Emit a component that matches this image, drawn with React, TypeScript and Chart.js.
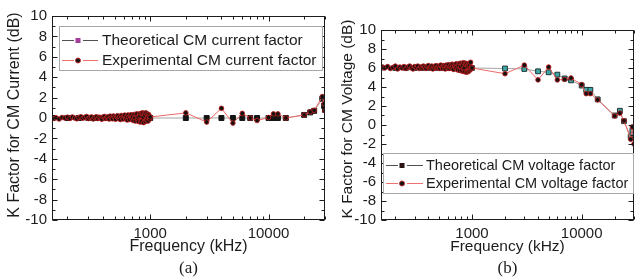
import React, { useEffect, useRef, useState } from "react";
import { Chart, registerables } from "chart.js";
Chart.register(...registerables);

const SANS = "'Liberation Sans', Arial, Helvetica, sans-serif";
const SERIF = "'Liberation Serif', 'Times New Roman', serif";
const INK = "#1c1c1c";

const X_LABELS = [1000, 10000];
const X_MINOR = [200, 300, 400, 500, 600, 700, 800, 900, 2000, 3000, 4000, 5000, 6000, 7000, 8000, 9000, 20000, 30000];
const Y_LABEL_VALUES = [-10, -8, -6, -4, -2, 0, 2, 4, 6, 8, 10];
const Y_MINOR = [-9, -7, -5, -3, -1, 1, 3, 5, 7, 9];

const denseFreq = [
  150, 160, 170, 180, 190,
  200, 210, 220, 230, 240, 250, 260, 270, 280, 290,
  300, 310, 320, 330, 340, 350, 360, 370, 380, 390,
  400, 410, 420, 430, 440, 450, 460, 470, 480, 490,
  500, 510, 520, 530, 540, 550, 560, 570, 580, 590,
  600, 610, 620, 630, 640, 650, 660, 670, 680, 690,
  700, 710, 720, 730, 740, 750, 760, 770, 780, 790,
  800, 810, 820, 830, 840, 850, 860, 870, 880, 890,
  900, 910, 920, 930, 940, 950, 960, 970, 980, 990,
  1000,
];
const theoDenseFreq = [150, 200, 250, 300, 350, 400, 450, 500, 550, 600, 650, 700, 750, 800, 850, 900, 950, 1000];

const curExpDense = [
  -0.05, 0.02, -0.1, 0.05, 0.0,
  0.08, -0.05, 0.1, 0.0, -0.08, 0.05, 0.12, -0.02, 0.06, 0.15,
  -0.05, 0.05, 0.1, -0.1, 0.03, 0.12, -0.05, 0.08, 0.0, -0.12,
  0.1, 0.15, -0.05, 0.05, 0.12, -0.1, 0.18, 0.02, -0.08, 0.2,
  0.05, -0.12, 0.15, 0.22, -0.05, 0.1, -0.15, 0.25, 0.05, -0.1,
  0.2, 0.28, -0.08, 0.12, -0.2, 0.3, 0.05, -0.15, 0.25, 0.32,
  -0.1, 0.15, -0.25, 0.35, 0.0, -0.3, 0.3, 0.4, -0.2, 0.1,
  -0.35, 0.4, 0.2, -0.4, 0.45, -0.3, 0.5, 0.1, -0.45, 0.45,
  0.3, -0.35, 0.5, -0.2, 0.4, 0.05, -0.3, 0.35, 0.2, -0.1,
  0.1,
];
const curSparseFreq = [2000, 3000, 4000, 5000, 6000, 7000, 8000, 10000, 11000, 12000, 14000, 20000, 22500, 24300, 28500, 29500, 30000];
const curExpSparse = [0.5, -0.4, 0.95, -0.5, 0.45, 0.0, -0.25, 0.05, 0.4, 0.4, 0.0, 0.3, 0.6, 0.75, 2.1, 1.4, 0.7];
const curTheoDense = [0, 0, 0, 0, 0, 0, 0, 0, 0, 0, 0, 0, 0, 0, 0, 0, 0, 0];
const curTheoSparse = [0, 0, 0, 0, 0, 0, 0, 0, 0, 0, 0, 0.3, 0.55, 0.7, 1.9, 1.2, 0.8];

const volExpDense = [
  6.1, 6.0, 6.15, 5.95, 6.05,
  6.2, 5.9, 6.1, 6.0, 6.15, 5.95, 6.1, 6.2, 6.0, 5.9,
  6.15, 6.05, 6.2, 5.95, 6.1, 6.0, 6.2, 6.1, 5.95, 6.15,
  6.25, 6.0, 6.1, 6.2, 5.9, 6.15, 6.05, 6.25, 6.0, 6.1,
  6.2, 5.95, 6.3, 6.1, 6.0, 6.25, 6.15, 5.9, 6.3, 6.05,
  6.2, 6.35, 5.95, 6.15, 6.3, 6.0, 6.4, 6.1, 5.85, 6.35,
  6.2, 6.0, 6.45, 6.1, 5.8, 6.4, 6.25, 5.75, 6.5, 6.15,
  5.7, 6.5, 6.3, 5.65, 6.55, 6.0, 5.6, 6.5, 6.35, 5.55,
  6.45, 6.2, 5.6, 6.4, 5.7, 6.3, 5.8, 6.6, 5.9, 6.1,
  6.0,
];
const volSparseFreq = [2000, 3000, 4000, 5000, 6000, 7000, 8000, 10000, 11000, 12000, 14000, 20000, 22300, 24300, 28000, 29000, 30000];
const volExpSparse = [5.4, 6.3, 4.75, 6.1, 4.75, 4.8, 4.95, 4.25, 3.3, 3.3, 2.65, 0.95, 1.25, 0.45, -1.5, -0.2, -2.0];
const volTheoDense = [6.05, 6.0, 6.0, 6.0, 6.0, 6.0, 6.0, 6.0, 6.0, 6.0, 6.0, 6.0, 6.0, 6.0, 6.0, 6.0, 6.0, 6.0];
const volTheoSparse = [5.95, 5.9, 5.65, 5.55, 5.3, 4.9, 4.7, 4.15, 3.7, 3.7, 2.7, 1.0, 1.5, 0.4, -1.2, -0.6, -1.0];

const pts = (f: number[], v: number[]) => f.map((x, i) => ({ x, y: v[i] }));

const decor = {
  id: "decor",
  afterDraw(chart: any, _a: any, o: any) {
    const { ctx, chartArea: ca } = chart;
    const xs = chart.scales.x;
    const ys = chart.scales.y;
    const L = Math.round(ca.left) + 0.5;
    const R = Math.round(ca.right) - 0.5;
    const T = Math.round(ca.top) + 0.5;
    const B = Math.round(ca.bottom) - 0.5;
    ctx.save();
    ctx.strokeStyle = INK;
    ctx.lineWidth = 1;
    ctx.strokeRect(L, T, R - L, B - T);
    ctx.beginPath();
    const xt = (v: number, len: number) => {
      const p = Math.round(xs.getPixelForValue(v)) + 0.5;
      ctx.moveTo(p, B); ctx.lineTo(p, B - len);
      ctx.moveTo(p, T); ctx.lineTo(p, T + len);
    };
    const yt = (v: number, len: number) => {
      const p = Math.round(ys.getPixelForValue(v)) + 0.5;
      ctx.moveTo(L, p); ctx.lineTo(L + len, p);
      ctx.moveTo(R, p); ctx.lineTo(R - len, p);
    };
    X_LABELS.forEach((v) => xt(v, 5));
    X_MINOR.forEach((v) => xt(v, 3));
    Y_LABEL_VALUES.forEach((v) => yt(v, 5));
    Y_MINOR.forEach((v) => yt(v, 3));
    ctx.stroke();

    // titles
    ctx.fillStyle = INK;
    ctx.textAlign = "center";
    ctx.textBaseline = "middle";
    ctx.font = `${o.titleSize}px ${SANS}`;
    ctx.fillText(o.xTitle, (ca.left + ca.right) / 2, o.xTitleY);
    ctx.save();
    ctx.translate(o.yTitleX, o.yTitleY);
    ctx.rotate(-Math.PI / 2);
    ctx.fillText(o.yTitle, 0, 0);
    ctx.restore();
    ctx.font = `${o.capSize}px ${SERIF}`;
    ctx.fillText(o.caption, (ca.left + ca.right) / 2, o.captionY);

    // legend
    const lg = o.legend;
    ctx.fillStyle = "#ffffff";
    ctx.fillRect(lg.x, lg.y, lg.w, lg.h);
    ctx.strokeStyle = "#a8a8a8";
    ctx.strokeRect(lg.x + 0.5, lg.y + 0.5, lg.w, lg.h);
    lg.items.forEach((it: any, i: number) => {
      const y = lg.rows[i];
      ctx.strokeStyle = it.line;
      ctx.lineWidth = 1;
      ctx.beginPath();
      ctx.moveTo(lg.x0, y + 0.5); ctx.lineTo(lg.mx - 4, y + 0.5);
      ctx.moveTo(lg.mx + 5, y + 0.5); ctx.lineTo(lg.x1, y + 0.5);
      ctx.stroke();
      ctx.fillStyle = it.fill;
      ctx.strokeStyle = it.stroke;
      if (it.marker === "rect") {
        ctx.fillRect(lg.mx - 2.5, y - 2, 5, 5);
      } else {
        ctx.beginPath();
        ctx.arc(lg.mx, y + 0.5, 2.5, 0, Math.PI * 2);
        ctx.fill();
        ctx.stroke();
      }
      ctx.fillStyle = INK;
      ctx.textAlign = "left";
      ctx.textBaseline = "middle";
      ctx.font = `${lg.size}px ${SANS}`;
      ctx.fillText(it.label, lg.tx, y + 1);
    });
    ctx.restore();
  },
};

function makeConfig(p: any) {
  const tickFont = { family: SANS, size: p.tickSize };
  return {
    type: "line",
    data: {
      datasets: [
        {
          label: "exp",
          data: p.exp,
          borderColor: "#f06868",
          borderWidth: 1,
          pointStyle: "circle",
          pointRadius: 2.3,
          pointBackgroundColor: "#111111",
          pointBorderColor: "#b81c1c",
          pointBorderWidth: 0.9,
          tension: 0,
          fill: false,
        },
        {
          label: "theo",
          data: p.theo,
          borderColor: "#a3a3a3",
          borderWidth: 1,
          pointStyle: "rect",
          pointRadius: p.theoRadius,
          pointBackgroundColor: p.theoFill,
          pointBorderColor: p.theoStroke,
          pointBorderWidth: 1,
          tension: 0,
          fill: false,
        },
      ],
    },
    options: {
      responsive: false,
      animation: false,
      devicePixelRatio: 1,
      events: [],
      layout: { padding: { top: p.padTop, right: p.padRight, left: 0, bottom: 0 } },
      plugins: { legend: { display: false }, tooltip: { enabled: false }, decor: p.decor },
      scales: {
        x: {
          type: "logarithmic",
          min: 148,
          max: 30000,
          grid: { display: false, drawTicks: false },
          border: { display: false },
          afterFit: (s: any) => {
            s.height = 59;
          },
          ticks: { display: false },
        },
        y: {
          min: -10,
          max: 10,
          grid: { display: false, drawTicks: false },
          border: { display: false },
          afterFit: (s: any) => {
            s.width = p.yWidth;
          },
          ticks: { stepSize: 2, autoSkip: false, padding: 5, font: tickFont, color: INK },
        },
      },
    },
    plugins: [decor],
  };
}

const configA = makeConfig({
  exp: [...pts(denseFreq, curExpDense), ...pts(curSparseFreq, curExpSparse)],
  theo: [...pts(theoDenseFreq, curTheoDense), ...pts(curSparseFreq, curTheoSparse)],
  theoRadius: 3.5,
  theoFill: "#141414",
  theoStroke: "#141414",
  padTop: 16,
  padRight: 4,
  yWidth: 52,
  tickSize: 15,
  decor: {
    xTitle: "Frequency (kHz)",
    yTitle: "K Factor for CM Current (dB)",
    caption: "(a)",
    titleSize: 16,
    capSize: 17,
    xTitleY: 247,
    yTitleX: 15,
    yTitleY: 115,
    captionY: 269,
    legend: {
      x: 59, y: 26, w: 263, h: 44,
      rows: [40, 60],
      x0: 62, x1: 98, mx: 78, tx: 102, size: 15.5,
      items: [
        { label: "Theoretical CM current factor", line: "#505050", marker: "rect", fill: "#a0409a", stroke: "#a0409a" },
        { label: "Experimental CM current factor", line: "#f07070", marker: "circle", fill: "#111111", stroke: "#c03030" },
      ],
    },
  },
});

const configB = makeConfig({
  exp: [...pts(denseFreq, volExpDense), ...pts(volSparseFreq, volExpSparse)],
  theo: [...pts(theoDenseFreq, volTheoDense), ...pts(volSparseFreq, volTheoSparse)],
  theoRadius: 3.4,
  theoFill: "#3fa6a6",
  theoStroke: "#1d3535",
  padTop: 30,
  padRight: 2,
  yWidth: 51,
  tickSize: 15,
  decor: {
    xTitle: "Frequency (kHz)",
    yTitle: "K Factor for CM Voltage (dB)",
    caption: "(b)",
    titleSize: 15.5,
    capSize: 17,
    xTitleY: 247,
    yTitleX: 18,
    yTitleY: 119,
    captionY: 269,
    legend: {
      x: 53, y: 153, w: 250, h: 40,
      rows: [165, 183],
      x0: 56, x1: 93, mx: 72, tx: 96, size: 14.5,
      items: [
        { label: "Theoretical CM voltage factor", line: "#505050", marker: "rect", fill: "#2a1414", stroke: "#2a1414" },
        { label: "Experimental CM voltage factor", line: "#f07070", marker: "circle", fill: "#111111", stroke: "#c03030" },
      ],
    },
  },
});

function ChartCanvas({ config, left, width }: { config: any; left: number; width: number }) {
  const ref = useRef<HTMLCanvasElement>(null);
  const [labels, setLabels] = useState<{ v: number; x: number }[]>([]);
  useEffect(() => {
    const c = new Chart(ref.current as HTMLCanvasElement, config);
    const xs: any = c.scales.x;
    setLabels(X_LABELS.map((v) => ({ v, x: xs.getPixelForValue(v) })));
    return () => c.destroy();
  }, [config]);
  return (
    <>
      <canvas
        ref={ref}
        width={width}
        height={279}
        style={{ position: "absolute", left, top: 0, width, height: 279 }}
      />
      {labels.map((l) => (
        <div
          key={l.v}
          style={{
            position: "absolute",
            left: left + l.x - 40,
            top: 224,
            width: 80,
            height: 17,
            lineHeight: "17px",
            textAlign: "center",
            fontFamily: SANS,
            fontSize: 15,
            color: INK,
          }}
        >
          {String(l.v)}
        </div>
      ))}
    </>
  );
}

export default function App() {
  return (
    <div style={{ position: "absolute", left: 0, top: 0, width: 639, height: 279, background: "#ffffff", overflow: "hidden" }}>
      <ChartCanvas config={configA} left={0} width={330} />
      <ChartCanvas config={configB} left={330} width={309} />
    </div>
  );
}
